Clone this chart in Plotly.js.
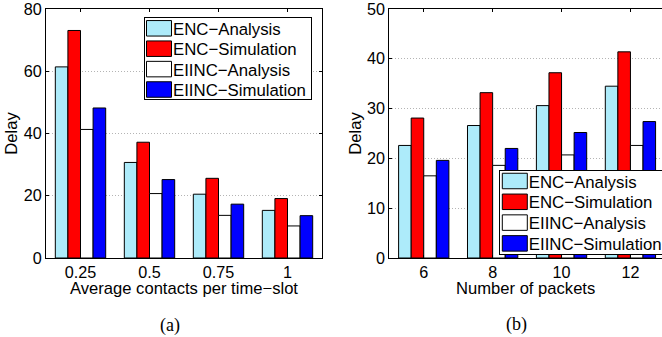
<!DOCTYPE html>
<html>
<head>
<meta charset="utf-8">
<script src="https://cdn.plot.ly/plotly-3.0.1.min.js"></script>
<style>html,body{margin:0;padding:0;background:#fff;}#chart{width:662px;height:337px;}</style>
</head>
<body>
<div id="chart"></div>
<script>
// ---- data ----
const contactsCats = ["0.25", "0.5", "0.75", "1"];
const packetCats = ["6", "8", "10", "12"];
const seriesNames = ["ENC\u2212Analysis", "ENC\u2212Simulation", "EIINC\u2212Analysis", "EIINC\u2212Simulation"];
const seriesColors = ["#ADEBFA", "#FF0000", "#FFFFFF", "#0000FF"];

const contactsEncAnalysis = [61.4, 30.7, 20.5, 15.3];
const contactsEncSimulation = [73.1, 37.2, 25.6, 19.1];
const contactsEiincAnalysis = [41.3, 20.7, 13.7, 10.3];
const contactsEiincSimulation = [48.2, 25.2, 17.3, 13.6];

const packetsEncAnalysis = [22.6, 26.6, 30.6, 34.5];
const packetsEncSimulation = [28.1, 33.2, 37.2, 41.4];
const packetsEiincAnalysis = [16.5, 18.6, 20.7, 22.6];
const packetsEiincSimulation = [19.6, 22.0, 25.2, 27.4];

const leftTicks = [0, 20, 40, 60, 80];
const rightTicks = [0, 10, 20, 30, 40, 50];

// ---- traces ----
const leftSeries = [contactsEncAnalysis, contactsEncSimulation, contactsEiincAnalysis, contactsEiincSimulation];
const rightSeries = [packetsEncAnalysis, packetsEncSimulation, packetsEiincAnalysis, packetsEiincSimulation];
const traces = [];
leftSeries.forEach((vals, i) => {
  traces.push({type: 'bar', x: contactsCats, y: vals, name: seriesNames[i], xaxis: 'x', yaxis: 'y',
    legend: 'legend', marker: {color: seriesColors[i], line: {color: '#000', width: 1}}, hoverinfo: 'none'});
});
rightSeries.forEach((vals, i) => {
  traces.push({type: 'bar', x: packetCats, y: vals, name: seriesNames[i], xaxis: 'x2', yaxis: 'y2',
    legend: 'legend2', marker: {color: seriesColors[i], line: {color: '#000', width: 1}}, hoverinfo: 'none'});
});

const FONT = 'Liberation Sans, Arial, sans-serif';
const SERIF = 'Liberation Serif, Times New Roman, serif';
const TICK = 16.2, TITLE = 16.6, LEG = 16.8;
const axisCommon = {
  showline: true, linecolor: '#000', linewidth: 1, ticks: 'inside', ticklen: 3, tickcolor: '#000',
  tickfont: {family: FONT, size: TICK, color: '#000'}, zeroline: false, fixedrange: true,
  ticklabeloverflow: 'allow'
};

const layout = {
  width: 662, height: 337,
  margin: {l: 0, r: 0, t: 9, b: 79},
  paper_bgcolor: '#fff', plot_bgcolor: '#fff',
  font: {family: FONT, size: TICK, color: '#000'},
  barmode: 'group', bargap: 0.27, bargroupgap: 0,
  showlegend: true,
  xaxis: Object.assign({}, axisCommon, {
    domain: [46/662, 322/662], type: 'category', range: [-0.5, 3.5], mirror: 'allticks',
    showgrid: false, anchor: 'y',
    title: {text: 'Average contacts per time\u2212slot', font: {family: FONT, size: TITLE}, standoff: 0}
  }),
  yaxis: Object.assign({}, axisCommon, {
    domain: [0, 1], range: [0, 80], tickvals: leftTicks, mirror: 'allticks', anchor: 'x',
    showgrid: true, gridcolor: '#b4b4b4', griddash: '1px,2px', gridwidth: 1,
    title: {text: 'Delay', font: {family: FONT, size: TITLE}, standoff: 1}
  }),
  xaxis2: Object.assign({}, axisCommon, {
    domain: [389.3/662, 1], type: 'category', range: [-0.5, 3.458], mirror: 'allticks',
    showgrid: false, anchor: 'y2',
    title: {text: 'Number of packets', font: {family: FONT, size: TITLE}, standoff: 0}
  }),
  yaxis2: Object.assign({}, axisCommon, {
    domain: [0, 1], range: [0, 50], tickvals: rightTicks, mirror: false, anchor: 'x2',
    showgrid: true, gridcolor: '#b4b4b4', griddash: '1px,2px', gridwidth: 1,
    title: {text: 'Delay', font: {family: FONT, size: TITLE}, standoff: 1}
  }),
  legend: {x: 143.5/662, y: (258-17.3)/249, xanchor: 'left', yanchor: 'top', bgcolor: '#fff',
    bordercolor: '#000', borderwidth: 1, font: {family: FONT, size: LEG, color: '#000'}, tracegroupgap: 0,
    traceorder: 'normal'},
  legend2: {x: 0.7, y: (258-170)/249, xanchor: 'left', yanchor: 'top', bgcolor: '#fff',
    bordercolor: '#000', borderwidth: 1, font: {family: FONT, size: LEG, color: '#000'}, tracegroupgap: 0,
    traceorder: 'normal'},
  annotations: [
    {text: '(a)', xref: 'paper', yref: 'paper', x: 170/662, y: (258-325)/249, xanchor: 'center', yanchor: 'middle',
     showarrow: false, font: {family: SERIF, size: 18, color: '#000'}},
    {text: '(b)', xref: 'paper', yref: 'paper', x: 516/662, y: (258-324)/249, xanchor: 'center', yanchor: 'middle',
     showarrow: false, font: {family: SERIF, size: 18, color: '#000'}}
  ]
};

// legend box geometry (pixels) to mimic the MATLAB legend look
const legendBoxes = {
  legend:  {left: 143.5, top: 17.3, first: 11.0, step: 20.4, height: 82.7, swL: 3, swR: 28, swH: 15.5, textX: 29.5},
  legend2: {left: 499.3, top: 170,  first: 11.0, step: 20.8, height: 85,   swL: 3, swR: 28, swH: 15.5, textX: 29.5}
};
// baseline (px) of the x-axis titles
const xTitleBaseline = 294.5;

function fixLegends(gd) {
  const info = gd.querySelector('g.infolayer');
  if (!info) return;
  Object.keys(legendBoxes).forEach(cls => {
    const s = legendBoxes[cls];
    let lg = null;
    info.querySelectorAll(':scope > g').forEach(g => { if (g.classList.contains(cls)) lg = g; });
    if (!lg) return;
    lg.setAttribute('transform', 'translate(' + s.left + ',' + s.top + ')');
    const sb = lg.querySelector('g.scrollbox');
    if (sb) { sb.removeAttribute('clip-path'); sb.setAttribute('transform', 'translate(0,0)'); }
    const sbar = lg.querySelector('rect.scrollbar');
    if (sbar) sbar.style.display = 'none';
    const groups = lg.querySelector('g.groups');
    if (groups) groups.setAttribute('transform', 'translate(0,0)');
    let maxW = 0;
    lg.querySelectorAll('g.traces').forEach((tr, i) => {
      tr.setAttribute('transform', 'translate(0,' + (s.first + i * s.step) + ')');
      const tm = tr.getCTM();
      tr.querySelectorAll('g.legendpoints path').forEach(p => {
        const pm = p.getCTM();
        const ox = pm.e - tm.e, oy = pm.f - tm.f;
        const h = s.swH / 2;
        p.setAttribute('d', 'M' + (s.swR - ox) + ',' + (h - oy) + 'H' + (s.swL - ox) + 'V' + (-h - oy) + 'H' + (s.swR - ox) + 'Z');
      });
      const t = tr.querySelector('text');
      if (t) {
        const m = t.getCTM();
        const ox = m ? m.e - tm.e : 0;
        t.setAttribute('x', s.textX - ox);
        t.querySelectorAll('tspan[x]').forEach(ts => ts.setAttribute('x', s.textX - ox));
        try { maxW = Math.max(maxW, t.getComputedTextLength() || 0); } catch (e) {}
      }
    });
    const w = s.textX + Math.max(maxW, 120) + 6;
    const bg = lg.querySelector('rect.bg');
    if (bg) {
      bg.setAttribute('x', 0.5); bg.setAttribute('y', 0.5);
      bg.setAttribute('width', w - 1); bg.setAttribute('height', s.height - 1);
    }
  });
  ['g-xtitle', 'g-x2title'].forEach(c => {
    const g = info.querySelector('g.' + c);
    if (!g) return;
    const t = g.querySelector('text');
    if (!t) return;
    const y = parseFloat(t.getAttribute('y'));
    if (isFinite(y)) g.setAttribute('transform', 'translate(0,' + (xTitleBaseline - y) + ')');
  });
}

Plotly.newPlot('chart', traces, layout, {staticPlot: true, displayModeBar: false}).then(gd => {
  fixLegends(gd);
  gd.on && gd.on('plotly_afterplot', () => fixLegends(gd));
  setTimeout(() => fixLegends(gd), 0);
  setTimeout(() => fixLegends(gd), 60);
});
</script>
</body>
</html>
